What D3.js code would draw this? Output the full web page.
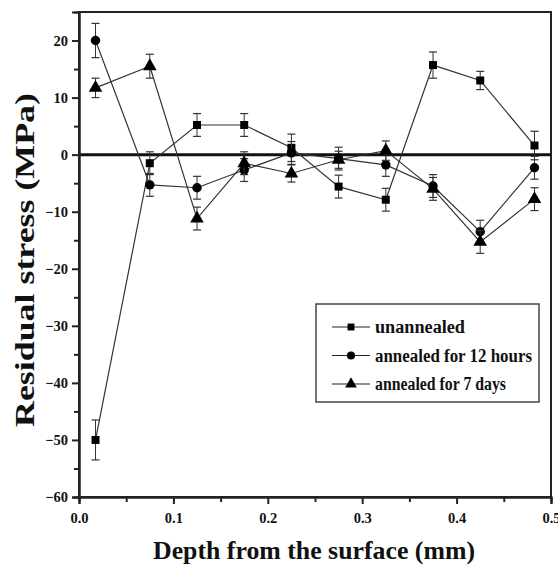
<!DOCTYPE html>
<html>
<head>
<meta charset="utf-8">
<script src="https://cdn.jsdelivr.net/npm/d3@7"></script>
<style>
  body { margin: 0; background: #fff; }
  text { font-family: "Liberation Serif", "Times New Roman", serif; font-weight: bold; fill: #111; }
</style>
</head>
<body>
<div id="chart"></div>
<script>
const depth = [0.0175, 0.075, 0.125, 0.175, 0.225, 0.275, 0.325, 0.375, 0.425, 0.4825];
const unannealed = [-50, -1.5, 5.2, 5.2, 1.2, -5.6, -7.9, 15.7, 13, 1.6];
const unannealedErr = [3.5, 2, 2, 2, 2.4, 2, 2, 2.3, 1.6, 2.5];
const hours12 = [20, -5.3, -5.8, -2.7, 0.3, -0.7, -1.8, -5.5, -13.5, -2.3];
const hours12Err = [3, 2, 2, 2, 2, 2, 2, 2, 2, 2];
const days7 = [11.7, 15.5, -11.2, -1.5, -3.3, -0.9, 0.7, -6, -15.3, -7.8];
const days7Err = [1.7, 2.1, 2, 2, 1.5, 1.5, 1.7, 2, 2, 2];
const seriesNames = ["unannealed", "annealed for 12 hours", "annealed for 7 days"];
const xTicks = [0, 0.1, 0.2, 0.3, 0.4, 0.5];
const yTicks = [-60, -50, -40, -30, -20, -10, 0, 10, 20];

const w = 558, h = 567;
const padL = 79, padR = 551, padT = 12, padB = 497;

const x = d3.scaleLinear().domain([0, 0.5]).range([padL, padR]);
const y = d3.scaleLinear().domain([-60, 25]).range([padB, padT]);

const svg = d3.select("#chart").append("svg")
    .attr("width", w)
    .attr("height", h);

// frame
svg.append("rect")
    .attr("x", padL).attr("y", padT)
    .attr("width", padR - padL).attr("height", padB - padT)
    .attr("fill", "none").attr("stroke", "#222").attr("stroke-width", 2);

// zero line
svg.append("line")
    .attr("x1", x(0)).attr("x2", x(0.5))
    .attr("y1", y(0)).attr("y2", y(0))
    .attr("stroke", "#111").attr("stroke-width", 3);

// axes
const xAxis = d3.axisBottom(x).tickValues(xTicks).tickSize(7).tickPadding(9).tickFormat(d3.format(".1f"));
const xMinor = d3.axisBottom(x).tickValues([0.05, 0.15, 0.25, 0.35, 0.45]).tickSize(5).tickFormat("");
const yAxis = d3.axisLeft(y).tickValues(yTicks).tickSize(7).tickPadding(4);
const yMinor = d3.axisLeft(y).tickValues([-55, -45, -35, -25, -15, -5, 5, 15]).tickSize(5).tickFormat("");

[xAxis, xMinor].forEach(a => {
    svg.append("g").attr("transform", "translate(0," + padB + ")").call(a);
});
[yAxis, yMinor].forEach(a => {
    svg.append("g").attr("transform", "translate(" + padL + ",0)").call(a);
});
svg.selectAll(".domain").attr("stroke", "#222").attr("stroke-width", 2);
svg.selectAll(".tick line").attr("stroke", "#222").attr("stroke-width", 2);
svg.selectAll(".tick text")
    .style("font-family", '"Liberation Serif", "Times New Roman", serif')
    .style("font-weight", "bold")
    .style("font-size", "14.5px")
    .attr("fill", "#111");

// titles
svg.append("text")
    .attr("x", 314).attr("y", 559)
    .attr("text-anchor", "middle")
    .attr("textLength", 322).attr("lengthAdjust", "spacingAndGlyphs")
    .style("font-size", "26px")
    .text("Depth from the surface (mm)");

svg.append("text")
    .attr("transform", "translate(34,260) rotate(-90)")
    .attr("text-anchor", "middle")
    .attr("textLength", 334).attr("lengthAdjust", "spacingAndGlyphs")
    .style("font-size", "28px")
    .text("Residual stress (MPa)");

// series
const series = [
    { name: seriesNames[0], vals: unannealed, err: unannealedErr, shape: d3.symbolSquare, size: 64 },
    { name: seriesNames[1], vals: hours12, err: hours12Err, shape: d3.symbolCircle, size: 70 },
    { name: seriesNames[2], vals: days7, err: days7Err, shape: d3.symbolTriangle, size: 80 }
];

const line = d3.line().x(d => x(d[0])).y(d => y(d[1]));

series.forEach(s => {
    const pts = depth.map((d, i) => [d, s.vals[i], s.err[i]]);
    const g = svg.append("g");

    g.append("path")
        .attr("d", line(pts))
        .attr("fill", "none")
        .attr("stroke", "#333")
        .attr("stroke-width", 1.2);

    const eb = g.selectAll(".err").data(pts).enter().append("g");
    eb.append("line")
        .attr("x1", d => x(d[0])).attr("x2", d => x(d[0]))
        .attr("y1", d => y(d[1] + d[2])).attr("y2", d => y(d[1] - d[2]))
        .attr("stroke", "#333").attr("stroke-width", 1);
    [1, -1].forEach(sign => {
        eb.append("line")
            .attr("x1", d => x(d[0]) - 4).attr("x2", d => x(d[0]) + 4)
            .attr("y1", d => y(d[1] + sign * d[2])).attr("y2", d => y(d[1] + sign * d[2]))
            .attr("stroke", "#333").attr("stroke-width", 1.2);
    });

    g.selectAll(".pt").data(pts).enter().append("path")
        .attr("d", d3.symbol().type(s.shape).size(s.size))
        .attr("transform", d => "translate(" + x(d[0]) + "," + y(d[1]) + ")")
        .attr("fill", "#000");
});

// legend
const legend = svg.append("g").attr("id", "legend");
legend.append("rect")
    .attr("x", 316).attr("y", 304)
    .attr("width", 223).attr("height", 98)
    .attr("fill", "#fff").attr("stroke", "#444").attr("stroke-width", 1.5);

series.forEach((s, i) => {
    const ly = 327 + i * 28.5;
    legend.append("line")
        .attr("x1", 332).attr("x2", 370)
        .attr("y1", ly).attr("y2", ly)
        .attr("stroke", "#222").attr("stroke-width", 1.2);
    legend.append("path")
        .attr("d", d3.symbol().type(s.shape).size(s.size * 0.75))
        .attr("transform", "translate(351," + ly + ")")
        .attr("fill", "#000");
    legend.append("text")
        .attr("x", 375).attr("y", ly + 6)
        .attr("textLength", i === 0 ? 90 : (i === 1 ? 157 : 131)).attr("lengthAdjust", "spacingAndGlyphs")
        .style("font-size", "18px")
        .text(s.name);
});
</script>
</body>
</html>
